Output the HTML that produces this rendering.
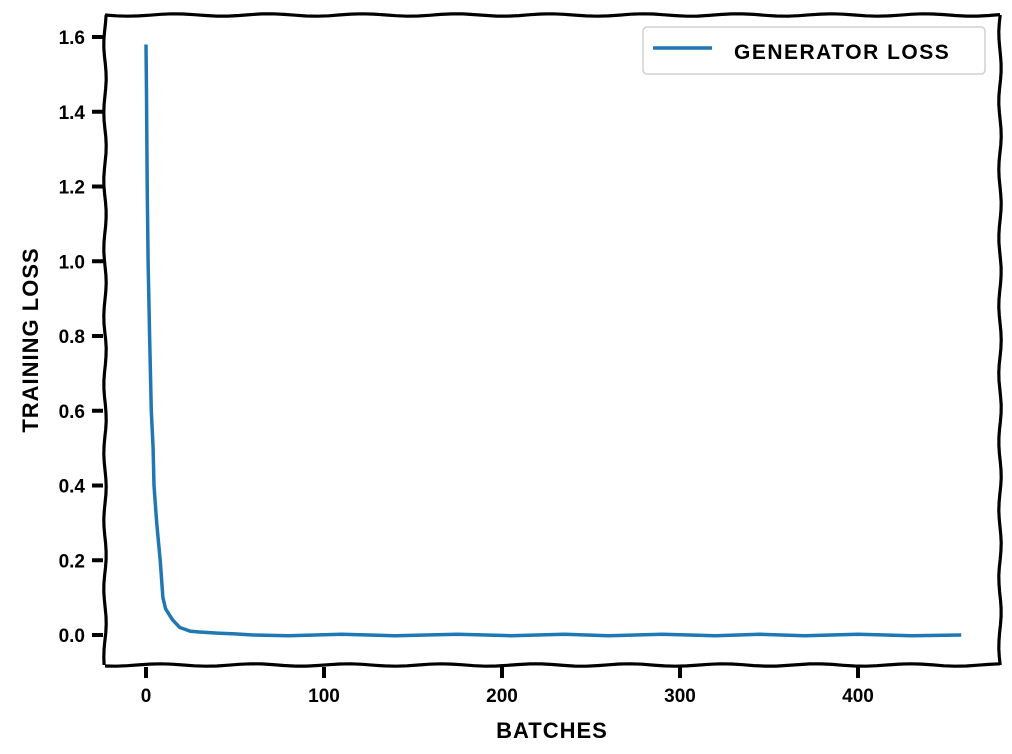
<!DOCTYPE html>
<html><head><meta charset="utf-8"><style>
html,body{margin:0;padding:0;background:#fff;}
svg{display:block;}
text{font-family:"Liberation Sans",sans-serif;fill:#000;font-weight:bold;}
</style></head><body>
<svg id="chart" width="1012" height="754" viewBox="0 0 1012 754" xmlns="http://www.w3.org/2000/svg">
<g id="frame"></g>
<g id="yticks"></g>
<g id="xticks"></g>
<path id="series" fill="none" stroke="#1f77b4" stroke-width="3.5" stroke-linejoin="round"/>
<text x="552" y="738" text-anchor="middle" font-size="22" font-weight="normal" letter-spacing="1">BATCHES</text>
<text transform="translate(38,340) rotate(-90)" text-anchor="middle" font-size="22" font-weight="normal" letter-spacing="1">TRAINING LOSS</text>
<g>
<rect x="643" y="27" width="342" height="47" rx="4" fill="#fff" stroke="#d0d0d0" stroke-width="1.5"/>
<line x1="653" y1="48" x2="712" y2="48" stroke="#1f77b4" stroke-width="3.5"/>
<text x="734" y="59" font-size="21" font-weight="normal" letter-spacing="1.5">GENERATOR LOSS</text>
</g>
</svg>
<script>
const batches = [0,0.3,0.7,1.2,2,3,4,4.5,6,8,9.5,11,13,15,17,19,22,25,30,40,50,60,80,110,140,175,205,235,260,290,320,345,370,400,430,458];
const losses  = [1.58,1.45,1.2,1.0,0.8,0.6,0.5,0.4,0.3,0.2,0.1,0.07,0.055,0.04,0.03,0.02,0.015,0.01,0.008,0.005,0.003,0.0,-0.002,0.002,-0.002,0.002,-0.002,0.002,-0.002,0.002,-0.002,0.002,-0.002,0.002,-0.002,0.0];
const yTicks = [0,0.2,0.4,0.6,0.8,1.0,1.2,1.4,1.6];
const yTickLabels = ["0.0","0.2","0.4","0.6","0.8","1.0","1.2","1.4","1.6"];
const xTicks = [0,100,200,300,400];
const xTickLabels = ["0","100","200","300","400"];

const X = v => 146 + v * 1.78;
const Y = v => 635 - v * 373.75;
const NS = "http://www.w3.org/2000/svg";
function wob(x1,y1,x2,y2,amp,ph){
  let d="",n=80;
  for(let i=0;i<=n;i++){const t=i/n;const s=amp*Math.sin(t*60+ph);
    const x=x1+(x2-x1)*t+(x1===x2?s:0), y=y1+(y2-y1)*t+(y1===y2?s:0);
    d+=(i?"L":"M")+x.toFixed(1)+","+y.toFixed(1);}
  return d;
}
const frame=document.getElementById('frame');
[[105,15,1000,15],[105,665,1000,665],[105,15,105,665],[1000,15,1000,665]].forEach((s,i)=>{
  const p=document.createElementNS(NS,'path');
  
  
  p.setAttribute('d',wob(s[0],s[1],s[2],s[3],1.2,i));
  p.setAttribute('stroke','#000');p.setAttribute('stroke-width','3.2');p.setAttribute('fill','none');
  frame.appendChild(p);
});
const yg=document.getElementById('yticks');
yTicks.forEach((v,i)=>{
  const l=document.createElementNS(NS,'line');
  
  
  l.setAttribute('x1',92);l.setAttribute('x2',103);l.setAttribute('y1',Y(v));l.setAttribute('y2',Y(v));
  l.setAttribute('stroke','#000');l.setAttribute('stroke-width','4');
  yg.appendChild(l);
  const t=document.createElementNS(NS,'text');
  
  
  t.setAttribute('x',85);t.setAttribute('y',Y(v)+7);t.setAttribute('text-anchor','end');t.setAttribute('font-size','19');
  t.textContent=yTickLabels[i];yg.appendChild(t);
});
const xg=document.getElementById('xticks');
xTicks.forEach((v,i)=>{
  const l=document.createElementNS(NS,'line');
  
  
  l.setAttribute('x1',X(v));l.setAttribute('x2',X(v));l.setAttribute('y1',667);l.setAttribute('y2',678);
  l.setAttribute('stroke','#000');l.setAttribute('stroke-width','4');
  xg.appendChild(l);
  const t=document.createElementNS(NS,'text');
  
  
  t.setAttribute('x',X(v));t.setAttribute('y',702);t.setAttribute('text-anchor','middle');t.setAttribute('font-size','19');
  t.textContent=xTickLabels[i];xg.appendChild(t);
});
let d="";
batches.forEach((b,i)=>{d+=(i?"L":"M")+X(b).toFixed(1)+","+Y(losses[i]).toFixed(1);});
document.getElementById('series').setAttribute('d',d);
</script>
</body></html>
